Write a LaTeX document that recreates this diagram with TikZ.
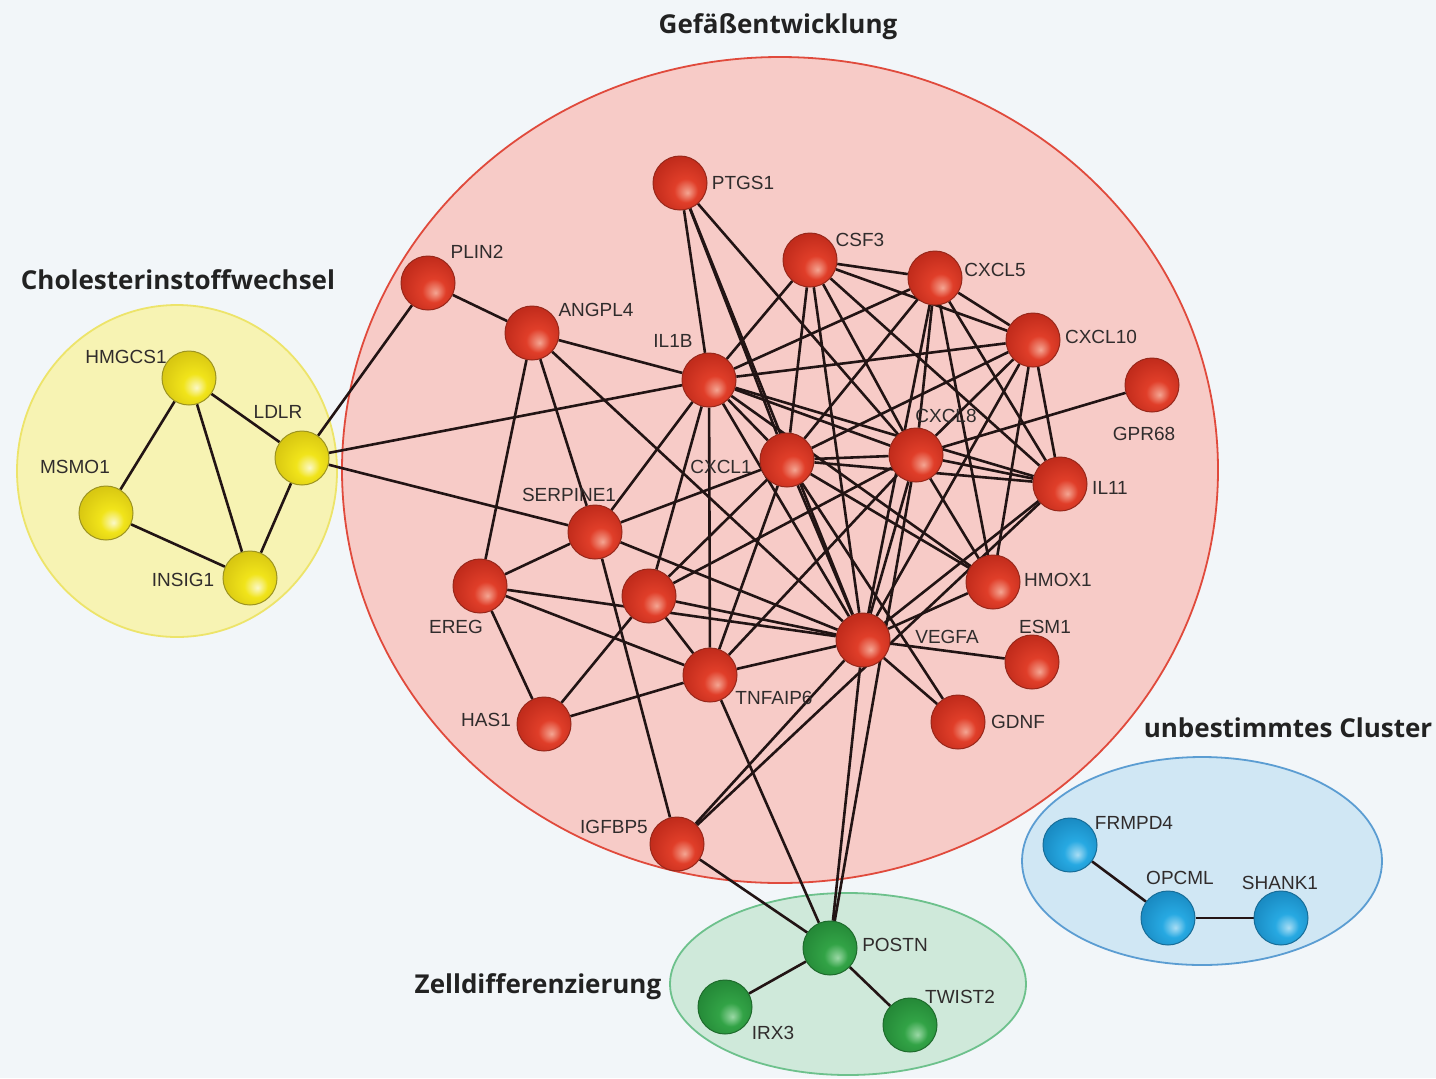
\documentclass[tikz,border=0pt]{standalone}
\usepackage{fontspec}
\setmainfont{Liberation Sans}
\newfontfamily\titlefont{Open Sans}
\usetikzlibrary{shadings}
\definecolor{bgc}{HTML}{F2F6F9}
\definecolor{redfill}{HTML}{F7CBC7}
\definecolor{redline}{HTML}{E04A3C}
\definecolor{yelfill}{HTML}{F7F3B3}
\definecolor{yelline}{HTML}{EDE46A}
\definecolor{grnfill}{HTML}{CFE9DA}
\definecolor{grnline}{HTML}{6DC18C}
\definecolor{blufill}{HTML}{D0E7F4}
\definecolor{bluline}{HTML}{5B9DD2}
\definecolor{edgec}{HTML}{221414}
\definecolor{labc}{HTML}{302C2C}
\definecolor{titc}{HTML}{222222}
% ball colours
\definecolor{rH}{HTML}{F4A592}\definecolor{rB}{HTML}{E03E29}\definecolor{rD}{HTML}{C22C1C}\definecolor{rE}{HTML}{97271A}
\definecolor{yH}{HTML}{FBF8C8}\definecolor{yB}{HTML}{F1E41A}\definecolor{yD}{HTML}{D9C812}\definecolor{yE}{HTML}{9C9320}
\definecolor{gH}{HTML}{9AD8A5}\definecolor{gB}{HTML}{32A346}\definecolor{gD}{HTML}{258A38}\definecolor{gE}{HTML}{1E6B2C}
\definecolor{bH}{HTML}{A8DDF4}\definecolor{bB}{HTML}{27A9E2}\definecolor{bD}{HTML}{1A8CC4}\definecolor{bE}{HTML}{176D98}
\pgfdeclareradialshading{redball}{\pgfpoint{7bp}{-9bp}}{color(0bp)=(rH); color(11bp)=(rB); color(28bp)=(rD); color(50bp)=(rD)}
\pgfdeclareradialshading{yelball}{\pgfpoint{7bp}{-9bp}}{color(0bp)=(yH); color(11bp)=(yB); color(28bp)=(yD); color(50bp)=(yD)}
\pgfdeclareradialshading{grnball}{\pgfpoint{7bp}{-9bp}}{color(0bp)=(gH); color(11bp)=(gB); color(28bp)=(gD); color(50bp)=(gD)}
\pgfdeclareradialshading{bluball}{\pgfpoint{7bp}{-9bp}}{color(0bp)=(bH); color(11bp)=(bB); color(28bp)=(bD); color(50bp)=(bD)}
\pgfdeclarelayer{backlayer}
\pgfdeclarelayer{edgelayer}
\pgfsetlayers{backlayer,edgelayer,main}
\tikzset{
  ballnode/.style={circle, minimum size=27pt, inner sep=0pt, line width=0.5pt},
  rball/.style={ballnode, shading=redball, draw=rE},
  yball/.style={ballnode, shading=yelball, draw=yE},
  gball/.style={ballnode, shading=grnball, draw=gE},
  bball/.style={ballnode, shading=bluball, draw=bE},
  lab/.style={font=\fontsize{9.5}{11}\selectfont, text=labc, inner sep=0pt},
  ttl/.style={font=\titlefont\bfseries\fontsize{13}{15}\selectfont, text=titc, inner sep=0pt},
  edge/.style={draw=edgec, line width=1.3pt},
  cluster/.style={line width=0.9pt}
}
\begin{document}
\begin{tikzpicture}[x=0.5pt,y=-0.5pt]
\useasboundingbox (0,0) rectangle (1436,1078);

\begin{pgfonlayer}{backlayer}
\fill[bgc] (0,0) rectangle (1436,1078);
\path[cluster, fill=yelfill, draw=yelline] (177,471) ellipse [x radius=80pt, y radius=83pt];
\path[cluster, fill=redfill, draw=redline] (780,470) ellipse [x radius=219pt, y radius=206.5pt];
\path[cluster, fill=grnfill, draw=grnline] (848,984) ellipse [x radius=89pt, y radius=45.5pt];
\path[cluster, fill=blufill, draw=bluline] (1202,861) ellipse [x radius=90pt, y radius=52pt];
\end{pgfonlayer}

% titles
\node[ttl] (tG) at (778,27) {Gefäßentwicklung};
\node[ttl] (tC) at (178,280) {Cholesterinstoffwechsel};
\node[ttl] (tU) at (1288,728) {unbestimmtes Cluster};
\node[ttl] (tZ) at (538,987) {Zelldifferenzierung};

% red nodes
\node[rball] (PTGS1) at (680,183) {};
\node[rball] (CSF3) at (810,260) {};
\node[rball] (CXCL5) at (935,278) {};
\node[rball] (CXCL10) at (1033,340) {};
\node[rball] (GPR68) at (1152,385) {};
\node[rball] (PLIN2) at (428,283) {};
\node[rball] (ANGPL4) at (532,333) {};
\node[rball] (IL1B) at (709,380) {};
\node[rball] (CXCL1) at (787,460) {};
\node[rball] (CXCL8) at (916,455) {};
\node[rball] (IL11) at (1060,484) {};
\node[rball] (SERPINE1) at (595,532) {};
\node[rball] (EREG) at (480,586) {};
\node[rball] (N1) at (649,596) {};
\node[rball] (VEGFA) at (863,640) {};
\node[rball] (HMOX1) at (993,582) {};
\node[rball] (ESM1) at (1032,662) {};
\node[rball] (GDNF) at (958,722) {};
\node[rball] (TNFAIP6) at (710,675) {};
\node[rball] (HAS1) at (544,724) {};
\node[rball] (IGFBP5) at (677,844) {};
% yellow
\node[yball] (HMGCS1) at (189,378) {};
\node[yball] (LDLR) at (302,458) {};
\node[yball] (MSMO1) at (106,513) {};
\node[yball] (INSIG1) at (250,578) {};
% green
\node[gball] (POSTN) at (830,948) {};
\node[gball] (IRX3) at (725,1007) {};
\node[gball] (TWIST2) at (910,1025) {};
% blue
\node[bball] (FRMPD4) at (1070,845) {};
\node[bball] (OPCML) at (1168,918) {};
\node[bball] (SHANK1) at (1281,918) {};

% labels
\node[lab] (lPTGS1) at (743,183) {PTGS1};
\node[lab] (lPLIN2) at (477,252) {PLIN2};
\node[lab] (lANGPL4) at (596,310) {ANGPL4};
\node[lab] (lIL1B) at (673,341) {IL1B};
\node[lab] (lCSF3) at (860,240) {CSF3};
\node[lab] (lCXCL5) at (995,270) {CXCL5};
\node[lab] (lCXCL10) at (1101,337) {CXCL10};
\node[lab] (lGPR68) at (1144,434) {GPR68};
\node[lab] (lCXCL8) at (946,416) {CXCL8};
\node[lab] (lCXCL1) at (721,467) {CXCL1};
\node[lab] (lIL11) at (1110,488) {IL11};
\node[lab] (lSERPINE1) at (569,495) {SERPINE1};
\node[lab] (lEREG) at (456,627) {EREG};
\node[lab] (lHMOX1) at (1058,580) {HMOX1};
\node[lab] (lESM1) at (1045,627) {ESM1};
\node[lab] (lVEGFA) at (947,637) {VEGFA};
\node[lab] (lTNFAIP6) at (774,698) {TNFAIP6};
\node[lab] (lHAS1) at (486,720) {HAS1};
\node[lab] (lGDNF) at (1018,722) {GDNF};
\node[lab] (lIGFBP5) at (614,827) {IGFBP5};
\node[lab] (lHMGCS1) at (126,357) {HMGCS1};
\node[lab] (lLDLR) at (278,412) {LDLR};
\node[lab] (lMSMO1) at (75,467) {MSMO1};
\node[lab] (lINSIG1) at (183,580) {INSIG1};
\node[lab] (lPOSTN) at (895,945) {POSTN};
\node[lab] (lIRX3) at (773,1033) {IRX3};
\node[lab] (lTWIST2) at (960,997) {TWIST2};
\node[lab] (lFRMPD4) at (1134,823) {FRMPD4};
\node[lab] (lOPCML) at (1180,878) {OPCML};
\node[lab] (lSHANK1) at (1280,883) {SHANK1};

\begin{pgfonlayer}{edgelayer}
\foreach \a/\b in {
 LDLR/HMGCS1, HMGCS1/MSMO1, HMGCS1/INSIG1, MSMO1/INSIG1, LDLR/INSIG1,
 LDLR/PLIN2, LDLR/IL1B, LDLR/SERPINE1,
 PLIN2/ANGPL4, ANGPL4/IL1B, ANGPL4/EREG, ANGPL4/SERPINE1, ANGPL4/VEGFA,
 PTGS1/IL1B, PTGS1/CXCL1, PTGS1/CXCL8, PTGS1/VEGFA,
 CSF3/CXCL5, CSF3/CXCL10, CSF3/IL1B, CSF3/CXCL1, CSF3/CXCL8, CSF3/VEGFA, CSF3/IL11,
 CXCL5/CXCL10, CXCL5/IL1B, CXCL5/CXCL1, CXCL5/CXCL8, CXCL5/VEGFA, CXCL5/IL11, CXCL5/HMOX1,
 CXCL10/IL1B, CXCL10/CXCL1, CXCL10/CXCL8, CXCL10/IL11, CXCL10/VEGFA, CXCL10/HMOX1,
 GPR68/CXCL8,
 IL1B/CXCL1, IL1B/CXCL8, IL1B/IL11, IL1B/HMOX1, IL1B/VEGFA, IL1B/SERPINE1, IL1B/N1, IL1B/TNFAIP6,
 CXCL1/CXCL8, CXCL1/IL11, CXCL1/VEGFA, CXCL1/HMOX1, CXCL1/GDNF, CXCL1/SERPINE1, CXCL1/N1, CXCL1/TNFAIP6,
 CXCL8/IL11, CXCL8/HMOX1, CXCL8/VEGFA, CXCL8/N1, CXCL8/POSTN, CXCL8/TNFAIP6,
 IL11/VEGFA, IL11/IGFBP5,
 HMOX1/VEGFA, VEGFA/ESM1, VEGFA/GDNF, VEGFA/SERPINE1, VEGFA/N1, VEGFA/EREG, VEGFA/TNFAIP6, VEGFA/IGFBP5, VEGFA/POSTN,
 SERPINE1/EREG, SERPINE1/IGFBP5,
 EREG/TNFAIP6, EREG/HAS1,
 N1/HAS1, N1/TNFAIP6,
 TNFAIP6/HAS1, TNFAIP6/POSTN,
 IGFBP5/POSTN, POSTN/IRX3, POSTN/TWIST2,
 FRMPD4/OPCML, OPCML/SHANK1}
 { \draw[edge] (\a) -- (\b); }
\end{pgfonlayer}
\end{tikzpicture}
\end{document}
